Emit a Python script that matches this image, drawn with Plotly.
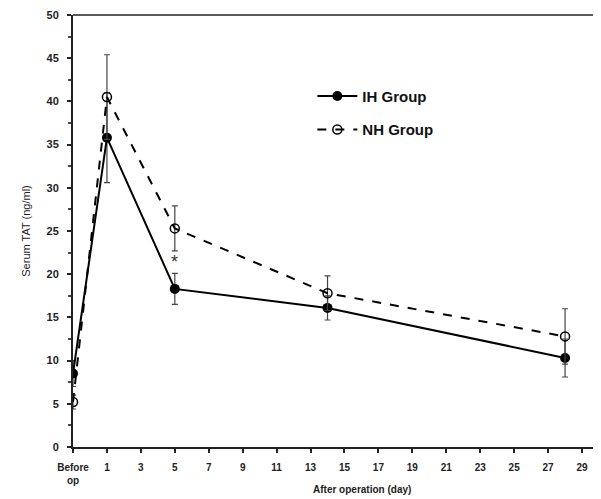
import plotly.graph_objects as go

days = [-1, 1, 5, 14, 28]
ih_mean = [8.5, 35.8, 18.3, 16.1, 10.3]
ih_err = [1.5, 5.2, 1.8, 1.4, 2.2]
nh_mean = [5.2, 40.5, 25.3, 17.8, 12.8]
nh_err = [0.8, 4.9, 2.6, 2.0, 3.2]
x_tickvals = [-1, 1, 3, 5, 7, 9, 11, 13, 15, 17, 19, 21, 23, 25, 27, 29]
x_ticktext = ["Before<br>op"] + [str(v) for v in x_tickvals[1:]]
y_tickvals = [0, 5, 10, 15, 20, 25, 30, 35, 40, 45, 50]

font_main = "Liberation Sans"

fig = go.Figure()
fig.add_trace(go.Scatter(
    x=days, y=ih_mean, name="<b>IH Group</b>", mode="lines+markers", legendgroup="ih",
    line=dict(color="black", width=2),
    marker=dict(symbol="circle", size=10, color="black"),
    error_y=dict(type="data", array=ih_err, visible=True, color="#444", thickness=1.2, width=3),
))
fig.add_trace(go.Scatter(
    x=days, y=nh_mean, name="<b>NH Group</b>", mode="lines+markers", legendgroup="nh",
    line=dict(color="black", width=2, dash="dash"),
    marker=dict(symbol="circle-open", size=9, color="black", line=dict(width=1.5)),
    error_y=dict(type="data", array=nh_err, visible=True, color="#444", thickness=1.2, width=3),
))

fig.add_annotation(x=5, y=21.4, text="*", showarrow=False,
                   font=dict(family=font_main, size=18, color="#333"))
fig.add_annotation(x=0.55, xref="paper", y=-0.08, yref="paper", yanchor="top",
                   text="<b>After operation (day)</b>", showarrow=False,
                   font=dict(family=font_main, size=10, color="#222"))

fig.update_layout(
    width=593, height=491,
    margin=dict(l=65, r=2, t=7, b=52),
    plot_bgcolor="white", paper_bgcolor="white",
    font=dict(family=font_main, size=10, color="#222"),
    showlegend=True,
    legend=dict(x=0.455, y=0.85, xanchor="left", yanchor="top",
                traceorder="grouped", bgcolor="rgba(0,0,0,0)",
                font=dict(family=font_main, size=15, color="#111"),
                itemwidth=40, tracegroupgap=11),
    xaxis=dict(range=[-1, 30], tickvals=x_tickvals, ticktext=["<b>%s</b>" % t for t in x_ticktext],
               showgrid=False, zeroline=False, showline=True, linecolor="#222", linewidth=2,
               mirror=False, ticks="outside", ticklen=4, tickwidth=1.5, tickcolor="#222",
               ticklabelstandoff=6,
               tickfont=dict(family=font_main, size=10)),
    yaxis=dict(range=[0, 50], tickvals=y_tickvals, ticktext=["<b>%d</b>" % v for v in y_tickvals],
               showgrid=False, zeroline=False, showline=True, linecolor="#222", linewidth=2,
               ticks="outside", ticklen=4, tickwidth=1.5, tickcolor="#222",
               ticklabelstandoff=6,
               minor=dict(dtick=2.5, ticks="outside", ticklen=3, tickcolor="#444"),
               title=dict(text="Serum TAT (ng/ml)", font=dict(family=font_main, size=11, color="#222"), standoff=14),
               tickfont=dict(family=font_main, size=11)),
)
fig.add_shape(type="line", xref="paper", yref="paper", x0=0, x1=1, y0=1, y1=1,
              line=dict(color="#222", width=1.5))
fig.add_shape(type="line", xref="paper", yref="paper", x0=1, x1=1, y0=0, y1=1,
              line=dict(color="#222", width=1))

fig.write_html("out.html")
